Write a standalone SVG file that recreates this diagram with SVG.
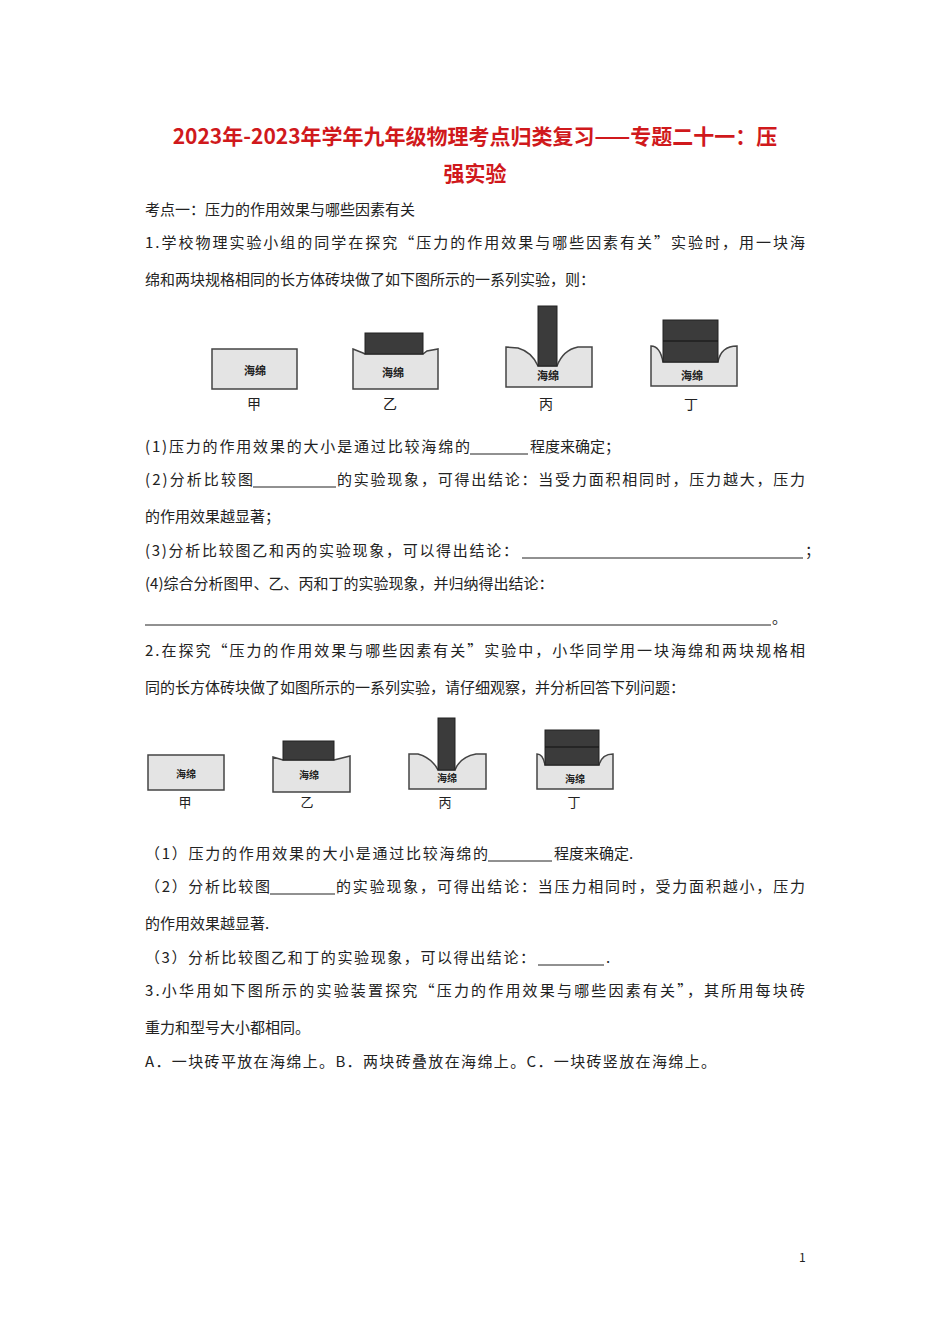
<svg xmlns="http://www.w3.org/2000/svg" width="950" height="1344" viewBox="0 0 950 1344">
<style>
.t{font-family:"Noto Sans CJK SC","Liberation Serif",serif;font-size:15px;fill:#222}
.h{font-family:"Noto Sans CJK SC",sans-serif;font-size:21px;font-weight:bold;fill:#d0191c;text-anchor:middle}
.sp{fill:#e4e4e4;stroke:#444;stroke-width:1.5}
.br{fill:#3b3b3b;stroke:#222;stroke-width:1}
.sl{font-family:"Noto Sans CJK SC",sans-serif;font-size:11px;font-weight:bold;fill:#222;text-anchor:middle}
.lb{font-family:"Noto Sans CJK SC",sans-serif;font-size:14px;fill:#222;text-anchor:middle}
.u{stroke:#222;stroke-width:1}
</style>
<rect width="950" height="1344" fill="#fff"/>
<text class="h" x="475" y="144">2023年-2023年学年九年级物理考点归类复习——专题二十一：压</text>
<text class="h" x="475" y="181">强实验</text>
<g class="t">
<text x="145" y="215">考点一：压力的作用效果与哪些因素有关</text>
<text x="145" y="248" textLength="660">1.学校物理实验小组的同学在探究“压力的作用效果与哪些因素有关”实验时，用一块海</text>
<text x="145" y="285">绵和两块规格相同的长方体砖块做了如下图所示的一系列实验，则：</text>
<text x="145" y="452" textLength="325">(1)压力的作用效果的大小是通过比较海绵的</text>
<text x="530" y="452">程度来确定；</text>
<text x="145" y="485" textLength="108">(2)分析比较图</text>
<text x="337" y="485" textLength="468">的实验现象，可得出结论：当受力面积相同时，压力越大，压力</text>
<text x="145" y="522">的作用效果越显著；</text>
<text x="145" y="556" textLength="373">(3)分析比较图乙和丙的实验现象，可以得出结论：</text>
<text x="805" y="556">；</text>
<text x="145" y="589">(4)综合分析图甲、乙、丙和丁的实验现象，并归纳得出结论：</text>
<text x="772" y="623">。</text>
<text x="145" y="656" textLength="660">2.在探究“压力的作用效果与哪些因素有关”实验中，小华同学用一块海绵和两块规格相</text>
<text x="145" y="693">同的长方体砖块做了如图所示的一系列实验，请仔细观察，并分析回答下列问题：</text>
<text x="145" y="859" textLength="343">（1）压力的作用效果的大小是通过比较海绵的</text>
<text x="554" y="859">程度来确定.</text>
<text x="145" y="892" textLength="125">（2）分析比较图</text>
<text x="336" y="892" textLength="469">的实验现象，可得出结论：当压力相同时，受力面积越小，压力</text>
<text x="145" y="929">的作用效果越显著.</text>
<text x="145" y="963" textLength="390">（3）分析比较图乙和丁的实验现象，可以得出结论：</text>
<text x="606" y="963">.</text>
<text x="145" y="996" textLength="660">3.小华用如下图所示的实验装置探究“压力的作用效果与哪些因素有关”，其所用每块砖</text>
<text x="145" y="1033">重力和型号大小都相同。</text>
<text x="145" y="1067" textLength="571">A．一块砖平放在海绵上。B．两块砖叠放在海绵上。C．一块砖竖放在海绵上。</text>
<text x="799" y="1262" style="font-size:12px">1</text>
</g>
<g id="blanks">
<line class="u" x1="470" y1="454" x2="528" y2="454"/>
<line class="u" x1="253" y1="487" x2="336" y2="487"/>
<line class="u" x1="522" y1="558" x2="803" y2="558"/>
<line class="u" x1="145" y1="625" x2="771" y2="625"/>
<line class="u" x1="488" y1="861" x2="552" y2="861"/>
<line class="u" x1="270" y1="894" x2="335" y2="894"/>
<line class="u" x1="538" y1="965" x2="604" y2="965"/>
</g>
<g id="fig1">
<g id="f1a"><rect class="sp" x="212" y="349" width="85" height="40"/><text class="sl" x="255" y="375">海绵</text><text class="lb" x="254" y="409">甲</text></g>
<g id="f1b"><path class="sp" d="M353,349 L363,353 L365,354 L423,354 L427,351 L438,349 L438,389 L353,389 Z"/><rect class="br" x="365" y="333" width="58" height="21"/><text class="sl" x="393" y="377">海绵</text><text class="lb" x="390" y="409">乙</text></g>
<g id="f1c"><path class="sp" d="M506,347 L518,348 Q532,352 538,366 L557,366 Q563,350 578,347 L592,347 L592,387 L506,387 Z"/><rect class="br" x="538" y="306" width="19" height="60"/><text class="sl" x="548" y="380">海绵</text><text class="lb" x="546" y="409">丙</text></g>
<g id="f1d"><path class="sp" d="M651,346 Q660,346 663,362 L718,362 Q721,346 737,346 L737,386 L651,386 Z"/><rect class="br" x="663" y="320" width="55" height="42"/><line x1="663" y1="341" x2="718" y2="341" stroke="#111" stroke-width="1.2"/><text class="sl" x="692" y="380">海绵</text><text class="lb" x="691" y="409">丁</text></g>
</g>
<g id="fig2">
<g id="f2a"><rect class="sp" x="148" y="755" width="76" height="35"/><text class="sl" x="186" y="778" style="font-size:10px">海绵</text><text class="lb" x="185" y="807" style="font-size:13px">甲</text></g>
<g id="f2b"><path class="sp" d="M273,757 L283,760 L334,760 L350,756 L350,792 L273,792 Z"/><rect class="br" x="283" y="741" width="51" height="19"/><text class="sl" x="309" y="779" style="font-size:10px">海绵</text><text class="lb" x="307" y="807" style="font-size:13px">乙</text></g>
<g id="f2c"><path class="sp" d="M409,754 L418,754 Q432,758 438,770 L455,770 Q460,757 476,754 L486,754 L486,789 L409,789 Z"/><rect class="br" x="438" y="718" width="17" height="52"/><text class="sl" x="447" y="782" style="font-size:10px">海绵</text><text class="lb" x="445" y="807" style="font-size:13px">丙</text></g>
<g id="f2d"><path class="sp" d="M537,754 Q543,754 545,765 L599,765 Q602,754 613,754 L613,789 L537,789 Z"/><rect class="br" x="545" y="730" width="54" height="35"/><line x1="545" y1="747" x2="599" y2="747" stroke="#111" stroke-width="1.2"/><text class="sl" x="575" y="783" style="font-size:10px">海绵</text><text class="lb" x="574" y="807" style="font-size:13px">丁</text></g>
</g>
</svg>
